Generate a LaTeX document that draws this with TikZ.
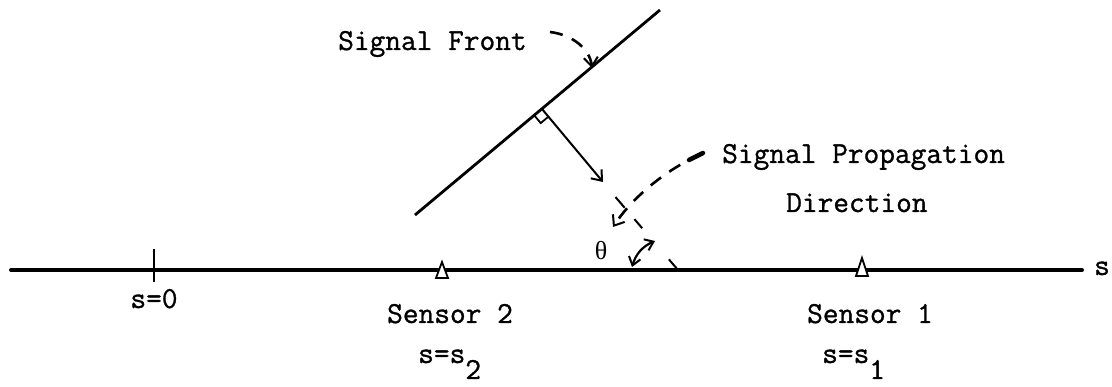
\documentclass[tikz,border=0pt]{standalone}
\usepackage{fontspec}
\newfontfamily\thetafont{Liberation Serif}
\newfontfamily\lblfont{Latin Modern Mono}[FakeBold=1.0]
\usetikzlibrary{arrows.meta}
\begin{document}
\begin{tikzpicture}[x=1pt,y=-1pt,
  lbl/.style={font=\lblfont\fontsize{30.5}{34}\selectfont, inner sep=0pt},
  barb/.style={-{Straight Barb[length=9pt,width=14pt,line width=2pt]}},
  ptr/.style={line width=2.6pt, dash pattern=on 13pt off 10pt},
  axisline/.style={line width=4pt, line cap=round},
  frontline/.style={line width=2.8pt},
  thinline/.style={line width=2pt}]
\useasboundingbox (0,0) rectangle (1112,387);

% axis
\coordinate (axL) at (11,270);
\coordinate (axR) at (1082,270);
\draw[axisline] (axL) -- (axR);
\node[lbl, anchor=base] (sax) at (1102,275) {s};

% origin tick
\coordinate (t0top) at (154,249);
\coordinate (t0bot) at (154,282);
\draw[thinline] (t0top) -- (t0bot);
\node[lbl, anchor=base] (s0) at (154,308) {s=0};

% sensors
\filldraw[fill=white, line width=1.8pt] (436,278) -- (448,278) -- (442,262) -- cycle;
\filldraw[fill=white, line width=1.8pt] (856,276) -- (868,276) -- (862,258) -- cycle;
\node[lbl, anchor=base] (sen2) at (450,323) {Sensor 2};
\node[lbl, anchor=base] (sen1) at (870,323) {Sensor 1};
\node[lbl, anchor=base west] (ss2) at (418,363) {s=s\raisebox{-16pt}{2}};
\node[lbl, anchor=base west] (ss1) at (822,363) {s=s\raisebox{-16pt}{1}};

% signal front
\coordinate (fA) at (415,215);
\coordinate (fB) at (660,10);
\draw[frontline] (fA) -- (fB);
\coordinate (F) at (542,109);
\coordinate (T) at (603,182);
\draw[thinline, barb] (F) -- (T);
\draw[line width=1.8pt] (534.3,115.4) -- (540.7,123.1) -- (548.4,116.7);

% labels
\node[lbl, anchor=base west] (sf) at (338,50) {Signal Front};
\node[lbl, anchor=base west] (sp) at (722,163) {Signal Propagation};
\node[lbl, anchor=base west] (dir) at (786,212) {Direction};
\node[inner sep=0pt, font=\thetafont\fontsize{26}{30}\selectfont] (th) at (601,251) {θ};

% pointer to signal front
\coordinate (sfp0) at (550,32);
\coordinate (sfp1) at (592,68);
\draw[ptr, barb] (sfp0) .. controls (574,35) and (590,50) .. (sfp1);

% pointer to propagation direction
\coordinate (spp0) at (703,153);
\coordinate (spp1) at (689,160);
\coordinate (spp2) at (613,227);
\draw[line width=4.5pt, line cap=round] (spp0) -- (spp1);
\draw[ptr, barb, dash phase=-10pt] (spp1) .. controls (662,174) and (632,198) .. (spp2);

% propagation direction line
\coordinate (O) at (678,270);
\coordinate (D) at (612,193);
\draw[thinline, dash pattern=on 14pt off 41pt on 12pt off 15pt on 14pt off 20pt] (O) -- (D);

% angle theta
\coordinate (a1) at (632,267);
\coordinate (a2) at (655,241);
\draw[line width=2.2pt, {Straight Barb[length=8pt,width=12pt,line width=2pt]}-{Straight Barb[length=8pt,width=12pt,line width=2pt]}] (a1) to[bend left=25] (a2);
\end{tikzpicture}
\end{document}
